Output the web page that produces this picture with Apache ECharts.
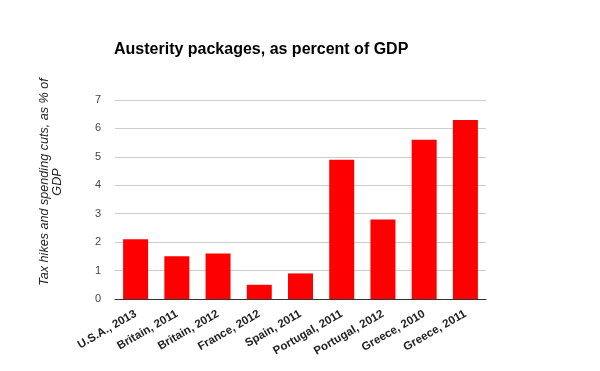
<!DOCTYPE html>
<html><head><meta charset="utf-8">
<script src="https://cdn.jsdelivr.net/npm/echarts@6/dist/echarts.min.js"></script>
<style>html,body{margin:0;padding:0;background:#fff}#c{width:600px;height:371px}</style>
</head><body><div id="c"></div>
<script>
const categories = ["U.S.A., 2013","Britain, 2011","Britain, 2012","France, 2012","Spain, 2011","Portugal, 2011","Portugal, 2012","Greece, 2010","Greece, 2011"];
const values = [2.1, 1.5, 1.6, 0.5, 0.9, 4.9, 2.8, 5.6, 6.3];
const yTicks = [0,1,2,3,4,5,6,7];
const titleText = "Austerity packages, as percent of GDP";
const yAxisTitle = "Tax hikes and spending cuts, as % of\nGDP";

const chart = echarts.init(document.getElementById('c'), null, {renderer:'canvas'});
chart.setOption({
  animation:false,
  backgroundColor:'#fff',
  title:{text:titleText,left:109,top:37,textStyle:{fontFamily:'Liberation Sans, Arial',fontSize:16,fontWeight:'bold',color:'#000'}},
  grid:{left:115,right:114,top:100,bottom:72,containLabel:false},
  graphic:[{type:'text',x:51,y:182,rotation:Math.PI/2,style:{text:yAxisTitle,fontFamily:'Liberation Sans, Arial',fontSize:12.6,fontStyle:'italic',fill:'#222',align:'center',verticalAlign:'middle',lineHeight:13}}],
  xAxis:{type:'category',data:categories,
    axisLine:{lineStyle:{color:'#333',width:1}},
    axisTick:{show:false},
    axisLabel:{rotate:30,interval:0,fontFamily:'Liberation Sans, Arial',fontSize:11.5,fontWeight:'bold',color:'#222',margin:14}},
  yAxis:{type:'value',min:yTicks[0],max:yTicks[yTicks.length-1],interval:1,
    axisLine:{show:false},axisTick:{show:false},
    splitLine:{lineStyle:{color:'#ccc',width:1}},
    axisLabel:{fontFamily:'Liberation Sans, Arial',fontSize:11,color:'#444',margin:14}},
  series:[{type:'bar',data:values,barWidth:25,itemStyle:{color:'#ff0000'}}]
});
</script></body></html>
